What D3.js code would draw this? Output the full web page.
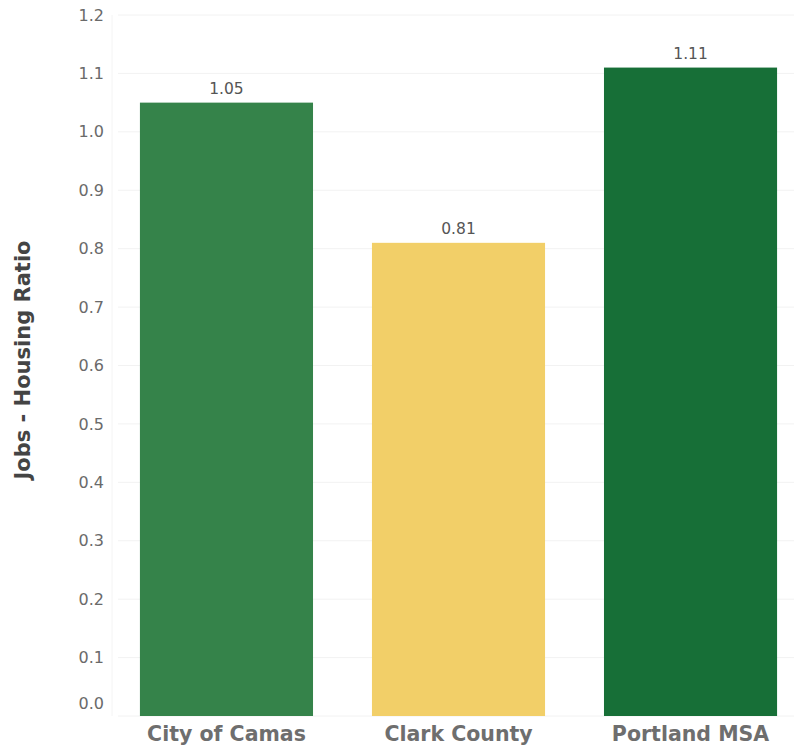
<!DOCTYPE html>
<html>
<head>
<meta charset="utf-8">
<script src="https://cdn.jsdelivr.net/npm/d3@7"></script>
<style>
  html, body { margin: 0; padding: 0; background: #fff; }
  svg { display: block; }
</style>
</head>
<body>
<svg id="chart" width="794" height="749"></svg>
<script>
const categories = ["City of Camas", "Clark County", "Portland MSA"];
const values = [1.05, 0.81, 1.11];
const valueLabels = ["1.05", "0.81", "1.11"];
const barColors = ["#35834a", "#f2cf68", "#176f37"];
const tickValues = [0, 0.1, 0.2, 0.3, 0.4, 0.5, 0.6, 0.7, 0.8, 0.9, 1.0, 1.1, 1.2];
const yTitle = "Jobs - Housing Ratio";

const svg = d3.select("#chart");
const font = "'DejaVu Sans', 'Open Sans', sans-serif";

const x = d3.scaleBand().domain(categories).range([110, 807]).paddingInner(0.254).paddingOuter(0.129);
const y = d3.scaleLinear().domain([0, 1.2]).range([716, 15]);

// gridlines
svg.append("g").selectAll("line").data(tickValues).join("line")
  .attr("x1", 118).attr("x2", 794)
  .attr("y1", d => y(d)).attr("y2", d => y(d))
  .attr("stroke", "#f2f2f2").attr("stroke-width", 1);

// faint axis line
svg.append("line").attr("x1", 112).attr("x2", 112).attr("y1", y(1.2)).attr("y2", y(0))
  .attr("stroke", "#f4f4f4");

// y axis
const yAxis = d3.axisLeft(y).tickValues(tickValues).tickFormat(d3.format(".1f")).tickSize(0).tickPadding(0);
const gy = svg.append("g").attr("transform", "translate(104,0)").call(yAxis);
gy.select(".domain").remove();
gy.selectAll("text")
  .attr("font-family", font).attr("font-size", 16).attr("fill", "#6a6a6a")
  .attr("dy", d => d === 0 ? "-0.5em" : "0.32em");

// bars
svg.append("g").selectAll("rect").data(categories).join("rect")
  .attr("x", d => x(d)).attr("width", x.bandwidth())
  .attr("y", (d, i) => y(values[i])).attr("height", (d, i) => y(0) - y(values[i]))
  .attr("fill", (d, i) => barColors[i]);

// value labels
svg.append("g").selectAll("text").data(categories).join("text")
  .attr("x", d => x(d) + x.bandwidth() / 2)
  .attr("y", (d, i) => y(values[i]) - 9)
  .attr("text-anchor", "middle")
  .attr("font-family", font).attr("font-size", 15.5).attr("fill", "#555")
  .text((d, i) => valueLabels[i]);

// x axis labels
const xAxis = d3.axisBottom(x).tickSize(0).tickPadding(0);
const gx = svg.append("g").attr("transform", `translate(0,${y(0)})`).call(xAxis);
gx.select(".domain").remove();
gx.selectAll("text")
  .attr("font-family", font).attr("font-size", 20.5).attr("font-weight", 600)
  .attr("fill", "#6e6e6e").attr("dy", "1.2em");

// y title
svg.append("text")
  .attr("transform", "translate(30,360) rotate(-90)")
  .attr("text-anchor", "middle")
  .attr("font-family", font).attr("font-size", 21).attr("font-weight", 600)
  .attr("fill", "#444")
  .text(yTitle);
</script>
</body>
</html>
